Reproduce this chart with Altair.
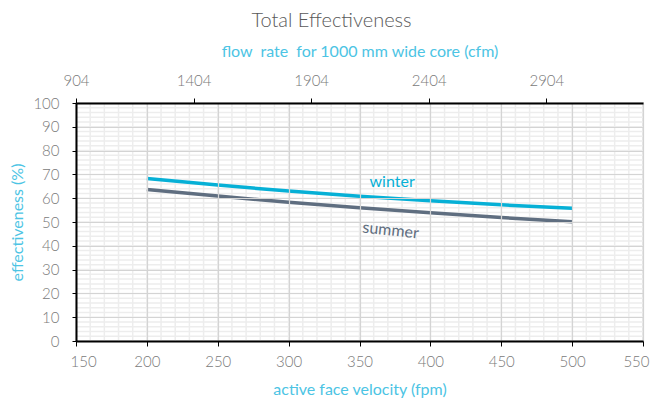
import altair as alt
import pandas as pd

# ---- data ----
fpm = [200, 250, 300, 350, 400, 450, 500]
winter = [68.3, 65.5, 63.0, 60.8, 58.9, 57.2, 55.8]
summer = [63.7, 60.9, 58.3, 56.0, 53.9, 51.9, 50.1]
series_names = ["winter", "summer"]

fpm_ticks = [150, 200, 250, 300, 350, 400, 450, 500, 550]
eff_ticks = [0, 10, 20, 30, 40, 50, 60, 70, 80, 90, 100]
cfm_ticks = [904, 1404, 1904, 2404, 2904]
cfm_range = [904, 3315]

label_text = ["winter", "summer"]
label_fpm = [373, 372]
label_eff = [66.6, 46.4]
label_angle = [0, 6]

# ---- tables ----
df = pd.DataFrame({
    "fpm": fpm * 2,
    "eff": winter + summer,
    "series": ["winter"] * len(fpm) + ["summer"] * len(fpm),
})
lab = pd.DataFrame({"fpm": label_fpm, "eff": label_eff,
                    "series": label_text, "angle": label_angle})
top = pd.DataFrame({"cfm": cfm_ticks})

FONT = "Lato"
TICK_LABEL = "#7a7a7a"
AXIS_TITLE = "#4cc4e4"
C_WINTER = "#06b0d6"
C_SUMMER = "#5f6e80"

xs = alt.Scale(domain=[150, 550], nice=False, zero=False)
ys = alt.Scale(domain=[0, 100], nice=False)
cs = alt.Scale(domain=series_names, range=[C_WINTER, C_SUMMER])

common = dict(labelFont=FONT, titleFont=FONT, labelFontSize=15, labelColor=TICK_LABEL,
              titleColor=AXIS_TITLE, titleFontSize=16, titleFontWeight="normal",
              labelFontWeight=300, domainColor="#000000", domainWidth=2,
              tickColor="#000000", gridColor="#d4d4d4", gridWidth=1.2, zindex=1)

xaxis = alt.Axis(values=fpm_ticks, title="active face velocity (fpm)", grid=True,
                 tickSize=5, labelPadding=8, titlePadding=12,
                 labelFlush=True, labelFlushOffset=6, **common)
yaxis = alt.Axis(values=eff_ticks, title="effectiveness (%)", grid=True,
                 tickSize=4, labelPadding=13, titlePadding=7, labelFlush=False, **common)
topaxis = alt.Axis(orient="top", values=cfm_ticks, format="d",
                   title="flow\u00a0 rate\u00a0 for 1000 mm wide core (cfm)", grid=False,
                   tickSize=5, labelPadding=10, titlePadding=14, labelFlush=False, **common)

vminor = alt.Chart(alt.sequence(150, 551, 10, as_="v")).mark_rule(
    color="#ededed", strokeWidth=1.5
).encode(x=alt.X("v:Q", scale=xs, axis=xaxis))

hminor = alt.Chart(alt.sequence(0, 101, 2, as_="h")).mark_rule(
    color="#ededed", strokeWidth=1.5
).encode(y=alt.Y("h:Q", scale=ys, axis=yaxis))

lines = alt.Chart(df).mark_line(strokeWidth=3.5).encode(
    x=alt.X("fpm:Q", scale=xs, axis=xaxis),
    y=alt.Y("eff:Q", scale=ys, axis=yaxis),
    color=alt.Color("series:N", scale=cs, legend=None),
    detail="series:N",
)

texts = alt.Chart(lab).mark_text(font=FONT, fontSize=16, align="center",
                                 baseline="middle").encode(
    x=alt.X("fpm:Q", scale=xs, axis=xaxis),
    y=alt.Y("eff:Q", scale=ys, axis=yaxis),
    text="series:N",
    angle=alt.Angle("angle:Q", scale=None),
    color=alt.Color("series:N", scale=cs, legend=None),
)

inner = alt.layer(vminor, hminor, lines, texts)

toplayer = alt.Chart(top).mark_rule(opacity=0).encode(
    x=alt.X("cfm:Q", scale=alt.Scale(domain=cfm_range, nice=False, zero=False), axis=topaxis)
)

chart = alt.layer(inner, toplayer).resolve_scale(x="independent").properties(
    width=567,
    height=238,
    autosize="none",
    padding={"left": 68, "top": 95, "right": 7, "bottom": 60},
    title=alt.TitleParams("Total Effectiveness", font=FONT, fontSize=20, fontWeight=300,
                          color="#595959", anchor="middle", dx=-28, offset=12),
).configure_view(stroke="#c4c4c4", strokeWidth=1.5)

chart.save("out.html", embed_options={"renderer": "svg", "actions": False})
